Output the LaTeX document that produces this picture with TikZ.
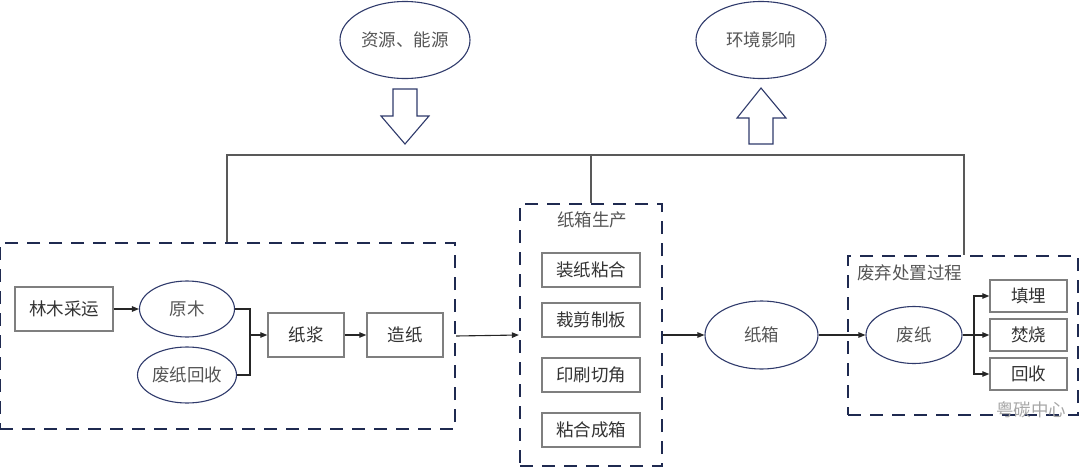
\documentclass[tikz,border=0pt]{standalone}
\usepackage{fontspec}
\setmainfont{Noto Sans CJK SC}
\usetikzlibrary{shapes.geometric,arrows.meta,calc}
\definecolor{navy}{HTML}{1F2A50}
\definecolor{ellc}{HTML}{2F3A6B}
\definecolor{boxc}{HTML}{7F7F7F}
\definecolor{linec}{HTML}{262626}
\definecolor{busc}{HTML}{595959}
\definecolor{txtd}{HTML}{333333}
\definecolor{txtg}{HTML}{555555}
\definecolor{wmark}{HTML}{A6A6A6}
\begin{document}
\begin{tikzpicture}[x=1pt,y=-1pt,
  every node/.style={font=\fontsize{17.5}{20}\selectfont, inner sep=0pt},
  dbox/.style={draw=navy, line width=2.3pt, dash pattern=on 13pt off 9pt, rectangle},
  ell/.style={ellipse, draw=ellc, line width=1.1pt, text=txtg},
  rbox/.style={rectangle, draw=boxc, line width=1.4pt, text=txtd},
  conn/.style={draw=linec, line width=1.1pt},
  arr/.style={conn, -{Triangle[length=7pt,width=5.5pt]}},
  blk/.style={draw=ellc, line width=1.1pt, fill=white, line join=miter}
]
\useasboundingbox (0,0) rectangle (1080,469);

% top ellipses
\node[ell, minimum width=130, minimum height=77] (res) at (405,40) {资源、能源};
\node[ell, minimum width=130, minimum height=77] (env) at (761,40) {环境影响};

% hollow block arrows
\draw[blk] (393,89) -- (417,89) -- (417,116) -- (429,116) -- (405,144) -- (381,116) -- (393,116) -- cycle;
\draw[blk] (761,88) -- (786,118) -- (773,118) -- (773,144) -- (749,144) -- (749,118) -- (737,118) -- cycle;

% dashed group boxes
\node[dbox, minimum width=455, minimum height=186] (L) at (227.5,336) {};
\node[dbox, minimum width=142, minimum height=262] (M) at (591,335) {};
\node[dbox, minimum width=230, minimum height=159] (R) at (963,335.5) {};

% bus line
\coordinate (b1) at (227,155);
\coordinate (b2) at (591,155);
\coordinate (b3) at (964,155);
\draw[draw=busc, line width=1.1pt] (L.north -| b1) -- (b1) -- (b3) -- (R.north -| b3);
\draw[draw=busc, line width=1.1pt] (b2) -- (M.north);

% left group
\node[rbox, minimum width=98, minimum height=44] (lm) at (64,309) {林木采运};
\node[ell, minimum width=95, minimum height=56] (ym) at (187,309) {原木};
\node[ell, minimum width=95, minimum height=56] (fzhs) at (187,375) {废纸回收};
\node[rbox, minimum width=76, minimum height=44] (zj) at (306,335) {纸浆};
\node[rbox, minimum width=76, minimum height=44] (zz) at (405,335) {造纸};
\coordinate (j1) at (250,335);
\draw[arr] (lm.east) -- (ym.west);
\draw[conn] (ym.east) -| (j1);
\draw[conn] (fzhs.east) -| (j1);
\draw[arr] (j1) -- (zj.west);
\draw[arr] (zj.east) -- (zz.west);

% middle group
\node[text=txtg] (mt) at (592,220) {纸箱生产};
\node[rbox, minimum width=98, minimum height=34] (m1) at (591,270) {装纸粘合};
\node[rbox, minimum width=98, minimum height=34] (m2) at (591,320) {裁剪制板};
\node[rbox, minimum width=98, minimum height=34] (m3) at (591,375) {印刷切角};
\node[rbox, minimum width=98, minimum height=34] (m4) at (591,430) {粘合成箱};
\draw[arr] (L.east) -- (M.west);

% carton
\node[ell, minimum width=113, minimum height=68] (zx) at (761.5,335) {纸箱};
\draw[arr] (M.east) -- (zx.west);

% right group
\node[text=txtg, anchor=west] (rt) at (857,273) {废弃处置过程};
\node[ell, minimum width=96, minimum height=57] (fz) at (914,335) {废纸};
\draw[arr] (zx.east) -- (fz.west);
\node[rbox, minimum width=77, minimum height=32] (tm) at (1028.5,296) {填埋};
\node[rbox, minimum width=77, minimum height=32] (fs) at (1028.5,335) {焚烧};
\node[rbox, minimum width=77, minimum height=32] (hs) at (1028.5,374) {回收};
\coordinate (br) at (974,335);
\draw[arr] (fz.east) -- (fs.west);
\draw[arr] (br) |- (tm.west);
\draw[arr] (br) |- (hs.west);

% watermark
\node[text=wmark] (wm) at (1031,410) {粤碳中心};
\end{tikzpicture}
\end{document}
